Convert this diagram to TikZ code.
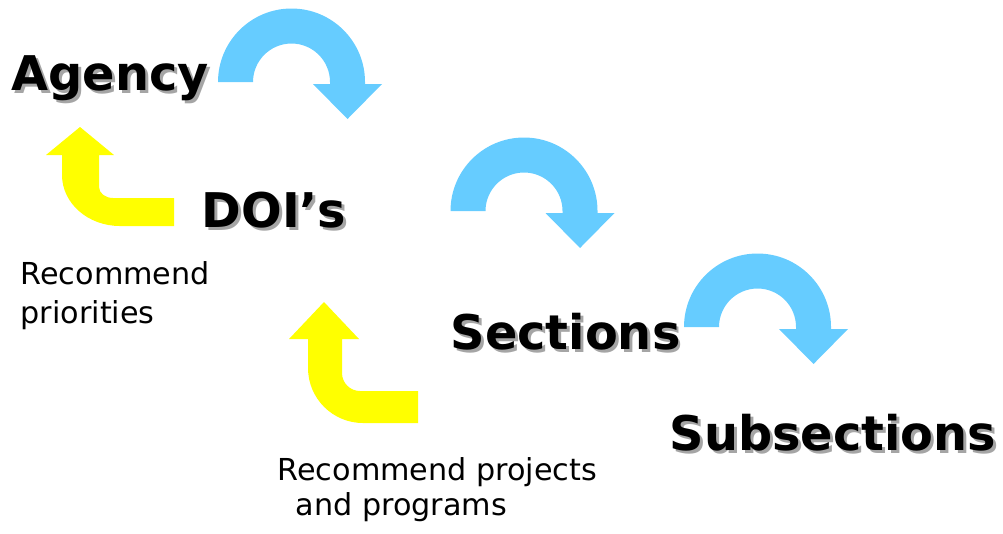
\documentclass[tikz,border=0pt]{standalone}
\usepackage{fontspec}
\setmainfont{DejaVu Sans}
\usepackage{tikz}
\usepackage{xcolor}
\definecolor{TurnBlue}{RGB}{102,204,255}
\definecolor{BendYellow}{RGB}{255,255,0}
\definecolor{ShadowGray}{RGB}{165,165,165}
\newcommand{\shadowtxt}[1]{\makebox[0pt][l]{\hspace{0.03cm}\raisebox{-0.03cm}{\textcolor{ShadowGray}{#1}}}#1}

\begin{document}
\begin{tikzpicture}[
  level/.style={anchor=base west,inner sep=0pt,font=\fontsize{13.6}{15}\selectfont\bfseries},
  note/.style={anchor=base west,inner sep=0pt,align=left,font=\fontsize{8.6}{11.1}\selectfont},
  turn/.pic={\fill[TurnBlue] (-0.735,0) arc[start angle=180,end angle=0,radius=0.735]
    -- (0.735,-0.02) -- (0.905,-0.02) -- (0.56,-0.37) -- (0.215,-0.02) -- (0.385,-0.02)
    -- (0.385,0) arc[start angle=0,end angle=180,radius=0.385] -- cycle;},
]
\useasboundingbox (0,0) rectangle (10.03,5.33);
\node[level] (agency) at (0.11,4.43) {\shadowtxt{Agency}};
\node[level] (dois) at (2.01,3.06) {\shadowtxt{DOI’s}};
\node[level] (sections) at (4.50,1.84) {\shadowtxt{Sections}};
\node[level] (subsections) at (6.69,0.83) {\shadowtxt{Subsections}};
\pic (agencyturn) at (2.915,4.51) {turn};
\pic (doisturn) at (5.24,3.22) {turn};
\pic (sectionsturn) at (7.575,2.06) {turn};
\fill[BendYellow] (0.62,3.78) -- (0.46,3.78) -- (0.80,4.06) -- (1.14,3.78) -- (0.99,3.78) -- (0.99,3.46)
  arc[start angle=180,end angle=270,x radius=0.14,y radius=0.11] -- (1.74,3.35) -- (1.74,3.07) -- (1.20,3.07)
  arc[start angle=270,end angle=180,x radius=0.58,y radius=0.51] -- cycle;
\fill[BendYellow] (3.08,1.94) -- (2.89,1.94) -- (3.24,2.31) -- (3.59,1.94) -- (3.42,1.94) -- (3.42,1.60)
  arc[start angle=180,end angle=270,radius=0.18] -- (4.18,1.42) -- (4.18,1.10) -- (3.63,1.10)
  arc[start angle=270,end angle=180,radius=0.55] -- cycle;
\node[note] (priorities) at (0.20,2.10) {Recommend\\priorities};
\node[note,font=\fontsize{8.6}{9.96}\selectfont] (projects) at (2.77,0.18) {Recommend projects\\\hspace*{0.6em}and programs};
\end{tikzpicture}
\end{document}
